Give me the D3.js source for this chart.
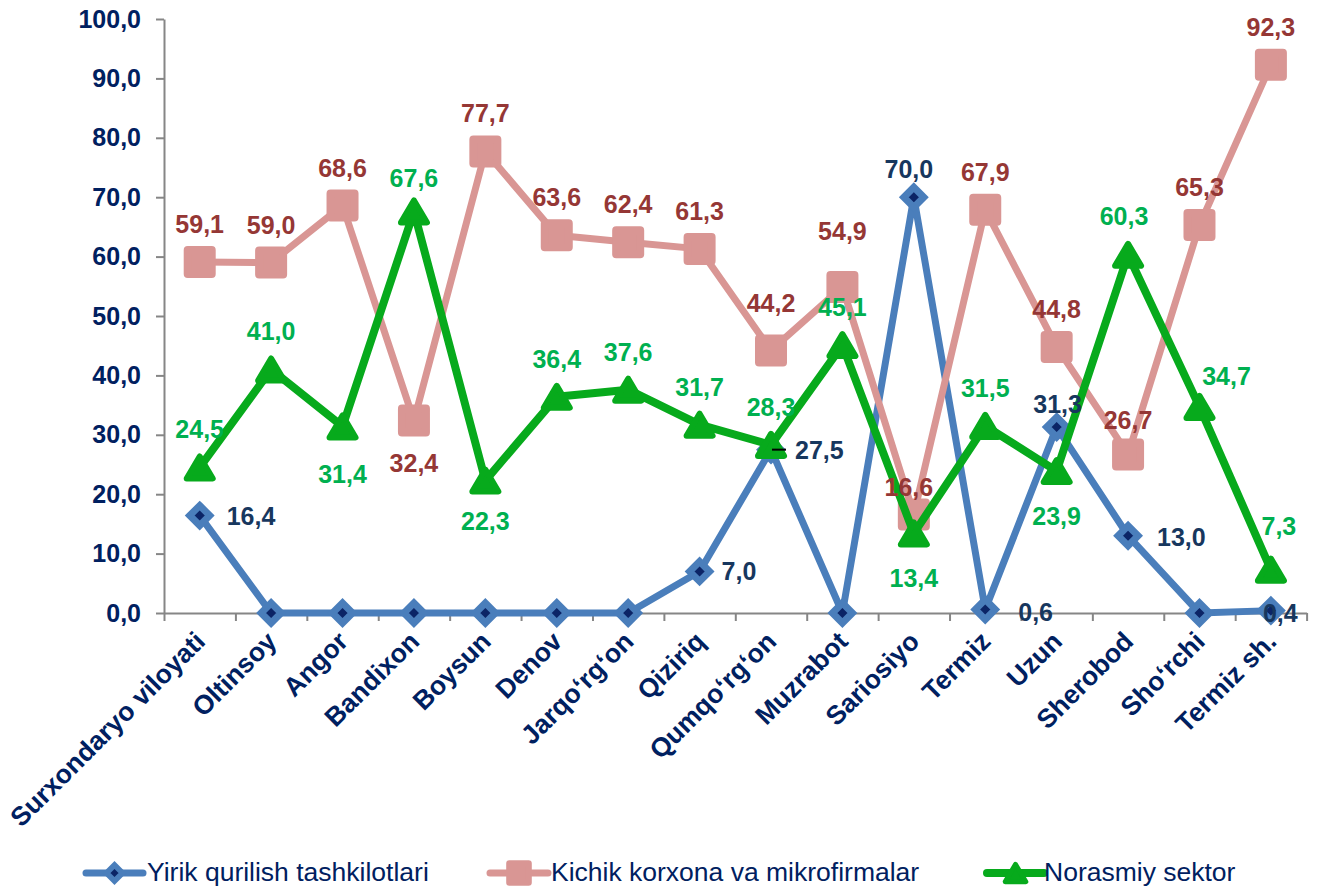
<!DOCTYPE html>
<html><head><meta charset="utf-8">
<script src="https://cdn.jsdelivr.net/npm/d3@7"></script>
<style>
body{margin:0;background:#fff}
text{font-family:"Liberation Sans",Arial,Helvetica,sans-serif}
</style>
</head><body>
<svg id="c" width="1317" height="887"></svg>
<script>
const categories = ["Surxondaryo viloyati","Oltinsoy","Angor","Bandixon","Boysun","Denov","Jarqo‘rg‘on","Qiziriq","Qumqo‘rg‘on","Muzrabot","Sariosiyo","Termiz","Uzun","Sherobod","Sho‘rchi","Termiz sh."];
const yirik    = [16.4,0,0,0,0,0,0,7.0,27.5,0,70.0,0.6,31.3,13.0,0,0.4];
const kichik   = [59.1,59.0,68.6,32.4,77.7,63.6,62.4,61.3,44.2,54.9,16.6,67.9,44.8,26.7,65.3,92.3];
const norasmiy = [24.5,41.0,31.4,67.6,22.3,36.4,37.6,31.7,28.3,45.1,13.4,31.5,23.9,60.3,34.7,7.3];
const seriesNames = ["Yirik qurilish tashkilotlari","Kichik korxona va mikrofirmalar","Norasmiy sektor"];
const yTicks = [0,10,20,30,40,50,60,70,80,90,100];

// label placement (offsets from the point), kept apart from the data
const blueLab = [["s",27,9],null,null,null,null,null,null,["s",22,9],["s",24,9],null,["m",-5,-19],["s",33,12],["m",1,-14],["s",29,10],null,["s",-8,11]];
const pinkLab = kichik.map(()=>["m",0,-29]);
pinkLab[3]=["m",0,51]; pinkLab[8]=["m",0,-38]; pinkLab[9]=["m",0,-47]; pinkLab[10]=["m",-5,-18]; pinkLab[13]=["m",0,-25];
const greenLab = norasmiy.map(()=>["m",0,-29]);
greenLab[2]=["m",0,57]; greenLab[4]=["m",0,49]; greenLab[10]=["m",0,54]; greenLab[12]=["m",0,54];
greenLab[3]=["m",0,-24]; greenLab[14]=["m",27,-22]; greenLab[15]=["m",8,-35]; greenLab[13]=["m",-4,-30];

const svg = d3.select("#c");
svg.append("rect").attr("width",1317).attr("height",887).attr("fill","#fff");

const L=164, R=1306.6, T=19, B=613;
const x = d3.scaleBand().domain(categories).range([L,R]);
const xb = d3.scaleLinear().domain([0,categories.length]).range([L,R]);
const y = d3.scaleLinear().domain([0,100]).range([B,T]);
const fmt = v => d3.format(".1f")(v).replace(".",",");
const cx = c => x(c)+x.bandwidth()/2;

const axisCol="#868686", navy="#002060";

// y axis
const ya = svg.append("g").attr("transform",`translate(${L},0)`)
  .call(d3.axisLeft(y).tickValues(yTicks).tickSize(8).tickSizeOuter(0).tickPadding(15).tickFormat(fmt));
ya.select(".domain").attr("stroke",axisCol).attr("stroke-width",2);
ya.selectAll(".tick line").attr("stroke",axisCol).attr("stroke-width",2);
ya.selectAll(".tick text").attr("fill",navy).attr("font-size",25).attr("font-weight","bold")
  .attr("font-family","Liberation Sans, Arial, sans-serif");

// x axis boundary ticks
const xa = svg.append("g").attr("transform",`translate(0,${B})`)
  .call(d3.axisBottom(xb).tickValues(d3.range(categories.length+1)).tickSize(8).tickSizeOuter(0).tickFormat(""));
xa.select(".domain").attr("stroke",axisCol).attr("stroke-width",2);
xa.selectAll(".tick line").attr("stroke",axisCol).attr("stroke-width",2);

// category labels
const xl = svg.append("g").attr("transform",`translate(0,${B})`)
  .call(d3.axisBottom(x).tickSize(0).tickPadding(0));
xl.select(".domain").remove();
xl.selectAll(".tick text")
  .attr("fill",navy).attr("font-size",26.5).attr("font-weight","bold")
  .attr("font-family","Liberation Sans, Arial, sans-serif")
  .attr("text-anchor","end").attr("dy",null).attr("y",null)
  .attr("transform","translate(7,30) rotate(-45)");

// series
const line = d3.line().x((d,i)=>cx(categories[i])).y(d=>y(d));
const diamond = "M0,-10L10,0L0,10L-10,0Z";
const square = "M-12,-12H12V12H-12Z";
const tri = "M0,-11L13,11L-13,11Z";

const series = [
  {vals:yirik, col:"#4A7EBB", w:7, mk:diamond, mfill:"#0B2466", mstroke:"#4A7EBB", mw:7, join:"miter", lab:blueLab, lcol:"#17375E"},
  {vals:kichik, col:"#D99694", w:7, mk:square, mfill:"#D99694", mstroke:"#D99694", mw:8, join:"round", lab:pinkLab, lcol:"#953735"},
  {vals:norasmiy, col:"#07AA1C", w:8, mk:tri, mfill:"#07AA1C", mstroke:"#07AA1C", mw:6, join:"round", lab:greenLab, lcol:"#00B050"}
];

series.forEach(s=>{
  const g = svg.append("g");
  g.append("path").datum(s.vals).attr("d",line).attr("fill","none")
    .attr("stroke",s.col).attr("stroke-width",s.w).attr("stroke-linejoin","round").attr("stroke-linecap","round");
  g.selectAll("path.m").data(s.vals).join("path").attr("class","m")
    .attr("d",s.mk).attr("transform",(d,i)=>`translate(${cx(categories[i])},${y(d)})`)
    .attr("fill",s.mfill).attr("stroke",s.mstroke).attr("stroke-width",s.mw).attr("stroke-linejoin",s.join);
});

// leader line for the 27,5 label
svg.append("line").attr("x1",cx(categories[8])+1).attr("x2",cx(categories[8])+15)
  .attr("y1",y(yirik[8])).attr("y2",y(yirik[8])).attr("stroke","#000").attr("stroke-width",2);

// data labels
series.forEach(s=>{
  const g = svg.append("g");
  s.vals.forEach((v,i)=>{
    const p = s.lab[i]; if(!p) return;
    g.append("text").attr("x",cx(categories[i])+p[1]).attr("y",y(v)+p[2])
      .attr("text-anchor",p[0]==="s"?"start":"middle")
      .attr("font-size",25).attr("font-weight","bold").attr("fill",s.lcol).text(fmt(v));
  });
});

// legend
const legY = 873;
const legPos = [[86,143,147],[490,548,551],[987,1044,1044]];
series.forEach((s,k)=>{
  const [a,b,t] = legPos[k];
  const g = svg.append("g");
  g.append("line").attr("x1",a).attr("x2",b).attr("y1",legY).attr("y2",legY)
    .attr("stroke",s.col).attr("stroke-width",s.w).attr("stroke-linecap","round");
  g.append("path").attr("d",s.mk).attr("transform",`translate(${(a+b)/2},${legY}) scale(0.8)`)
    .attr("fill",s.mfill).attr("stroke",s.mstroke).attr("stroke-width",s.mw).attr("stroke-linejoin",s.join);
  g.append("text").attr("x",t).attr("y",legY+8).attr("font-size",26.5).attr("fill",navy).text(seriesNames[k]);
});
</script>
</body></html>
